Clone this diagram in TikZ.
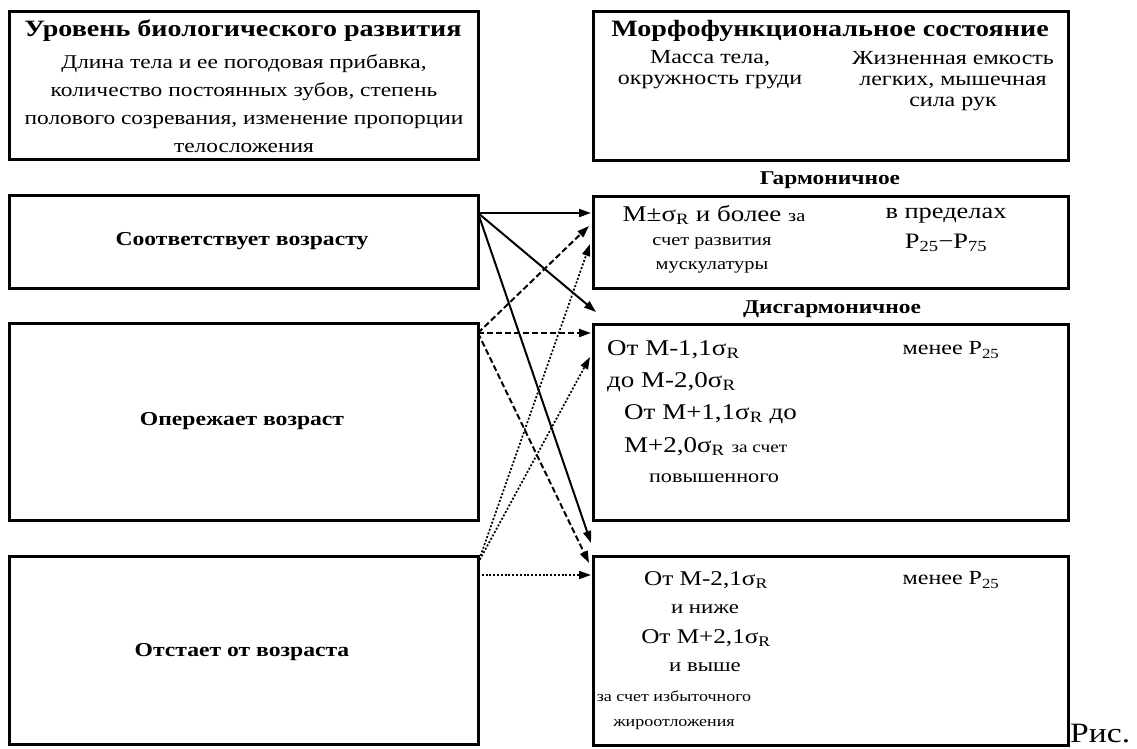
\documentclass[tikz,border=0pt]{standalone}
\usepackage{fontspec}
\setmainfont[FakeStretch=1.2]{Liberation Serif}
\usetikzlibrary{arrows.meta}
\newcommand{\myfs}[2]{\fontsize{#1}{#2}\selectfont}
\begin{document}
\begin{tikzpicture}[x=1pt,y=-1pt,
  box/.style={draw, line width=2.8pt, inner sep=0pt, anchor=north west},
  txt/.style={inner sep=0pt, align=center},
  solidarr/.style={-{Triangle[length=12pt,width=8pt]}, line width=2pt},
  dasharr/.style={-{Triangle[length=12pt,width=8pt]}, line width=2pt, dash pattern=on 6pt off 3pt},
  dotarr/.style={-{Triangle[length=12pt,width=8pt]}, line width=1.7pt, dash pattern=on 2pt off 1.8pt}
]
\useasboundingbox (0,0) rectangle (1137,749);
% left boxes
\node[box, minimum width=469pt, minimum height=148pt] (LH) at (8,10) {};
\node[box, minimum width=469pt, minimum height=93pt] (L1) at (8,194) {};
\node[box, minimum width=469pt, minimum height=197pt] (L2) at (8,322) {};
\node[box, minimum width=469pt, minimum height=188pt] (L3) at (8,555) {};
% right boxes
\node[box, minimum width=475pt, minimum height=149pt] (RH) at (592,10) {};
\node[box, minimum width=475pt, minimum height=92pt] (R1) at (592,195) {};
\node[box, minimum width=475pt, minimum height=196pt] (R2) at (592,323) {};
\node[box, minimum width=475pt, minimum height=189pt] (R3) at (592,555) {};

% header texts
\node[txt, font=\bfseries\myfs{23.4}{27}] (lht) at (243,31) {Уровень биологического развития};
\node[txt, font=\myfs{19.5}{28}] (lhb) at (244,104) {Длина тела и ее погодовая прибавка,\\количество постоянных зубов, степень\\полового созревания, изменение пропорции\\телосложения};
\node[txt, font=\bfseries\myfs{23.4}{27}] (rht) at (830,31) {Морфофункциональное состояние};
\node[txt, font=\myfs{20}{21}] (rhc1) at (710,70) {Масса тела,\\окружность груди};
\node[txt, font=\myfs{20}{21}] (rhc2) at (953,81) {Жизненная емкость\\легких, мышечная\\сила рук};

% left labels
\node[txt, font=\bfseries\myfs{19.7}{22}] (l1t) at (242,241) {Соответствует возрасту};
\node[txt, font=\bfseries\myfs{19.7}{22}] (l2t) at (242,421) {Опережает возраст};
\node[txt, font=\bfseries\myfs{19.7}{22}] (l3t) at (242,652) {Отстает от возраста};

% category labels
\node[txt, font=\bfseries\myfs{19.5}{20}] (harm) at (830,180) {Гармоничное};
\node[txt, font=\bfseries\myfs{19.5}{20}] (disharm) at (832,309) {Дисгармоничное};

% R1 texts
\node[txt, font=\myfs{22.5}{26}] (r1a) at (714,215) {M±σ\textsubscript{R} и более {\myfs{17}{20}за}};
\node[txt, font=\myfs{17}{24}] (r1b) at (712,255) {счет развития\\мускулатуры};
\node[txt, font=\myfs{22}{30}] (r1c) at (946,230) {в пределах\\P\textsubscript{25}−P\textsubscript{75}};

% R2 texts
\node[txt, anchor=west, font=\myfs{22.5}{26}] (r2a) at (607,350) {От M-1,1σ\textsubscript{R}};
\node[txt, anchor=west, font=\myfs{22.5}{26}] (r2b) at (607,382) {до M-2,0σ\textsubscript{R}};
\node[txt, anchor=west, font=\myfs{22.5}{26}] (r2c) at (624,414) {От M+1,1σ\textsubscript{R} до};
\node[txt, anchor=west, font=\myfs{22.5}{26}] (r2d) at (624,447) {M+2,0σ\textsubscript{R} {\myfs{16}{20}за счет}};
\node[txt, font=\myfs{18.5}{20}] (r2e) at (714,478) {повышенного};
\node[txt, font=\myfs{20}{24}] (r2f) at (951,350) {менее P\textsubscript{25}};

% R3 texts
\node[txt, font=\myfs{21}{26}] (r3a) at (706,580) {От M-2,1σ\textsubscript{R}};
\node[txt, font=\myfs{19}{24}] (r3b) at (705,609) {и ниже};
\node[txt, font=\myfs{21}{26}] (r3c) at (706,638) {От M+2,1σ\textsubscript{R}};
\node[txt, font=\myfs{19}{24}] (r3d) at (705,667) {и выше};
\node[txt, font=\myfs{15}{25}] (r3e) at (674,710) {за счет избыточного\\жироотложения};
\node[txt, font=\myfs{20}{24}] (r3f) at (951,580) {менее P\textsubscript{25}};

\node[inner sep=0pt, anchor=base west, font=\myfs{28}{30}] (ris) at (1070,742) {Рис.};

% arrow end points
\coordinate (o1) at (478,213);
\coordinate (o2) at (478,333);
\coordinate (o3) at (478,563);
\coordinate (o3b) at (478,575);
\coordinate (t11) at (591,213);
\coordinate (t12) at (596,312);
\coordinate (t13) at (591,543);
\coordinate (t21) at (589,226);
\coordinate (t22) at (591,333);
\coordinate (t23) at (589,563);
\coordinate (t31) at (590,244);
\coordinate (t32) at (590,357);
\coordinate (t33) at (591,575);

\draw[solidarr] (o1) -- (t11);
\draw[solidarr] (o1) -- (t12);
\draw[solidarr] (o1) -- (t13);
\draw[dasharr] (o2) -- (t21);
\draw[dasharr] (o2) -- (t22);
\draw[dasharr] (o2) -- (t23);
\draw[dotarr] (o3) -- (t31);
\draw[dotarr] (o3) -- (t32);
\draw[dotarr] (o3b) -- (t33);
\end{tikzpicture}
\end{document}
